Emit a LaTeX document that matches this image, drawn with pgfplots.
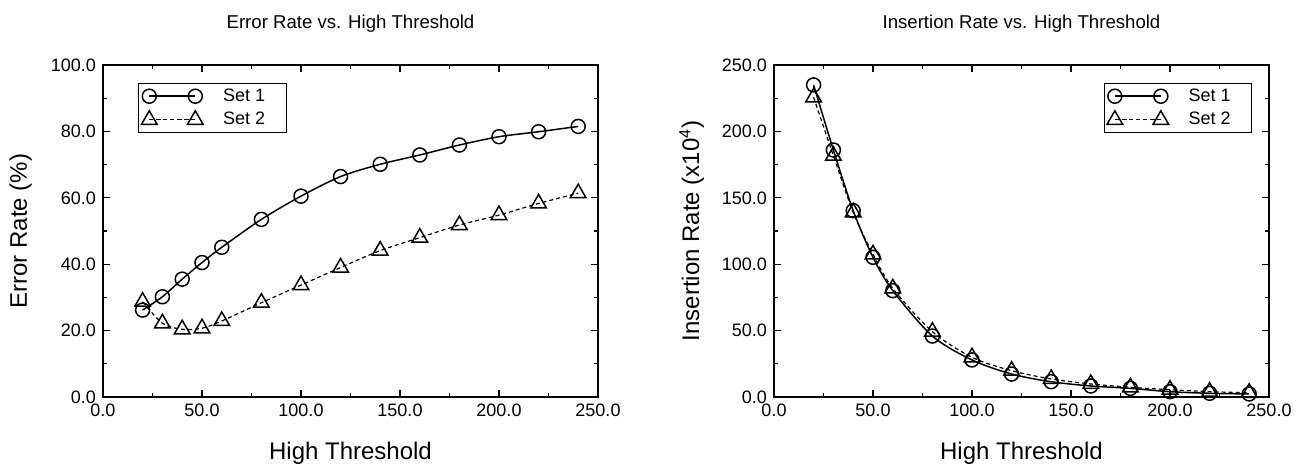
\documentclass[border=0pt]{standalone}
\usepackage{fontspec}
\setmainfont{Liberation Sans}
\usepackage{pgfplots}
\pgfplotsset{compat=1.18}

\pgfplotsset{
  common/.style={
    scale only axis,
    width=247.5pt, height=166pt,
    xmin=0, xmax=250, ymin=0,
    xtick={0,50,...,250},
    minor x tick num=1, minor y tick num=1,
    tick align=inside,
    major tick length=3.5pt, minor tick length=2pt,
    tick style={black, line width=0.6pt},
    axis line style={black, line width=0.75pt},
    /pgf/number format/assume math mode=true,
    xticklabel style={/pgf/number format/.cd, fixed, fixed zerofill, precision=1},
    yticklabel style={/pgf/number format/.cd, fixed, fixed zerofill, precision=1},
    scaled ticks=false,
    tick label style={font=\fontsize{9}{10}\selectfont},
    title style={font=\fontsize{9.3}{10}\selectfont, at={(0.5,1)}, anchor=base, yshift=12.5pt},
    xlabel style={font=\fontsize{12}{14}\selectfont, at={(0.5,0)}, anchor=base, yshift=-31pt},
    ylabel style={font=\fontsize{12}{14}\selectfont, at={(0,0.5)}, anchor=base},
    legend style={draw=black, line width=0.5pt, font=\fontsize{9}{10}\selectfont,
      inner xsep=1.5pt, inner ysep=0.5pt, row sep=0pt, column sep=8pt},
    legend cell align=left,
    legend image code/.code={\draw[#1] plot coordinates {(0pt,0pt) (23pt,0pt)};},
  },
  s1/.style={black, line width=0.75pt, smooth, mark=o, mark size=3.5pt, mark options={solid, line width=0.75pt}},
  s2/.style={black, line width=0.6pt, dash pattern=on 2pt off 1.5pt, smooth, mark=triangle, mark size=4.5pt, mark options={solid, line width=0.75pt}},
}

\begin{document}
\begin{tikzpicture}
\path[use as bounding box] (-51.5pt,-35.5pt) rectangle (600pt,198.5pt);

\begin{axis}[common,
  at={(0pt,0pt)}, anchor=south west,
  ymax=100, ytick={0,20,...,100},
  title={Error Rate vs. High Threshold},
  xlabel={High Threshold},
  ylabel={Error Rate (\%)},
  ylabel style={yshift=38pt},
  legend style={at={(0.0707,0.946)}, anchor=north west},
]
\addplot[s1] coordinates {(20,26.2)(30,30.2)(40,35.5)(50,40.5)(60,45.1)(80,53.5)(100,60.5)(120,66.4)(140,70.1)(160,72.9)(180,75.9)(200,78.4)(220,79.9)(240,81.5)};
\addlegendentry{Set 1\hspace*{7pt}}
\addplot[s2] coordinates {(20,28.7)(30,22.2)(40,20.4)(50,20.7)(60,22.9)(80,28.4)(100,33.7)(120,39.0)(140,44.1)(160,48.0)(180,51.8)(200,54.8)(220,58.3)(240,61.4)};
\addlegendentry{Set 2\hspace*{7pt}}
\end{axis}

\begin{axis}[common,
  at={(335.5pt,0pt)}, anchor=south west,
  ymax=250, ytick={0,50,...,250},
  title={Insertion Rate vs. High Threshold},
  xlabel={High Threshold},
  ylabel={Insertion Rate (x10\textsuperscript{4})},
  ylabel style={yshift=37.5pt},
  legend style={at={(0.966,0.946)}, anchor=north east},
]
\addplot[s1] coordinates {(20,235)(30,186)(40,140.3)(50,105.2)(60,80.1)(80,45.9)(100,27.9)(120,17.3)(140,11.5)(160,8.3)(180,6.5)(200,4.0)(220,2.8)(240,2.3)};
\addlegendentry{Set 1\hspace*{7pt}}
\addplot[s2] coordinates {(20,225.7)(30,181.7)(40,139.1)(50,107.4)(60,81.8)(80,49.2)(100,29.9)(120,19.8)(140,13.6)(160,9.8)(180,7.3)(200,5.5)(220,4.0)(240,3.2)};
\addlegendentry{Set 2\hspace*{7pt}}
\end{axis}
\end{tikzpicture}
\end{document}
